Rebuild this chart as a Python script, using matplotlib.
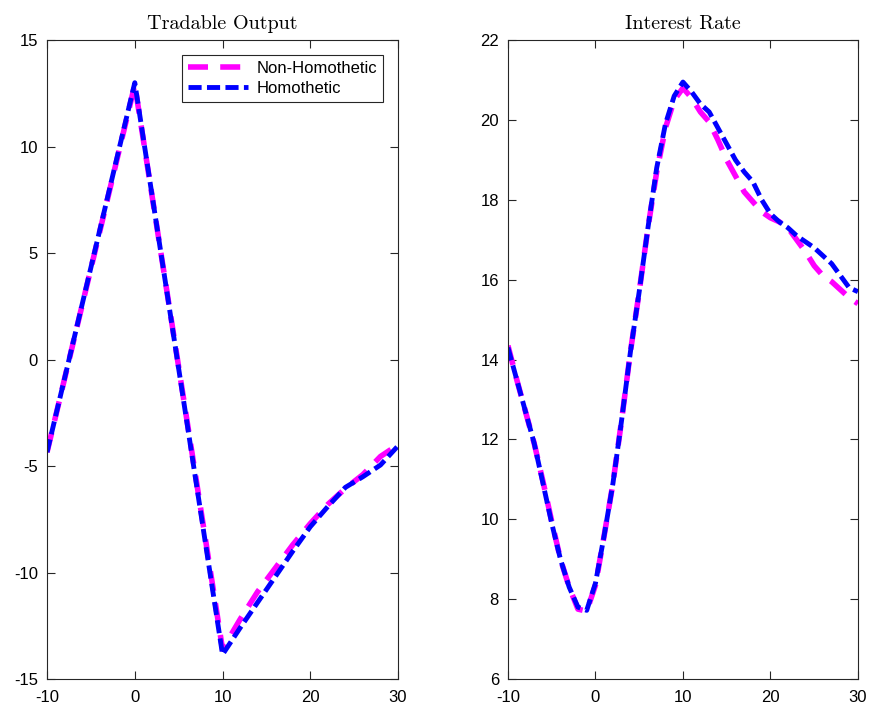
import matplotlib
matplotlib.use("Agg")
import matplotlib.pyplot as plt

# ---- data ----
t_out = [-10, 0, 10, 12, 14, 16, 18, 20, 22, 24, 26, 28, 30]
out_nonhom = [-4.35, 12.9, -13.6, -12.2, -10.9, -9.8, -8.7, -7.7, -6.8, -6.05, -5.4, -4.55, -4.0]
out_hom = [-4.35, 13.0, -13.85, -12.6, -11.4, -10.2, -9.0, -7.85, -6.9, -6.0, -5.5, -4.95, -4.05]

t_rate = list(range(-10, 31))
rate_hom = [14.3, 13.5, 12.7, 11.9, 10.9, 9.9, 9.0, 8.3, 7.8, 7.72, 8.4,
            9.6, 10.9, 12.5, 14.2, 15.7, 17.3, 18.8, 19.9, 20.6, 20.95,
            20.7, 20.4, 20.2, 19.8, 19.4, 19.0, 18.7, 18.45, 18.0, 17.65,
            17.45, 17.3, 17.1, 16.95, 16.8, 16.6, 16.4, 16.1, 15.8, 15.7]
rate_nonhom = [14.35, 13.5, 12.7, 11.9, 10.95, 9.95, 9.0, 8.3, 7.75, 7.7, 8.35,
               9.6, 10.9, 12.5, 14.2, 15.7, 17.3, 18.7, 19.8, 20.5, 20.8,
               20.55, 20.2, 19.95, 19.5, 19.0, 18.6, 18.2, 17.95, 17.7, 17.55,
               17.45, 17.3, 17.0, 16.7, 16.35, 16.1, 15.95, 15.75, 15.55, 15.4]

titles = ["Tradable Output", "Interest Rate"]
labels = ["Non-Homothetic", "Homothetic"]
xticks = [-10, 0, 10, 20, 30]
yticks_out = [-15, -10, -5, 0, 5, 10, 15]
yticks_rate = [6, 8, 10, 12, 14, 16, 18, 20, 22]

plt.rcParams['font.family'] = ['Liberation Sans', 'DejaVu Sans']
plt.rcParams['axes.unicode_minus'] = False

fig = plt.figure(figsize=(8.71, 7.06), dpi=100)
ax1 = fig.add_axes([0.054, 0.0382, 0.403, 0.905])
ax2 = fig.add_axes([0.5832, 0.0382, 0.4018, 0.905])

axcol = '#262626'

def style(ax, yt, ylim, title):
    ax.set_xlim(-10, 30)
    ax.set_ylim(*ylim)
    ax.set_xticks(xticks)
    ax.set_yticks(yt)
    ax.tick_params(direction='in', length=6, width=0.8, colors=axcol,
                   labelsize=12, top=True, right=True, labelcolor='black')
    ax.tick_params(axis='x', pad=8)
    ax.tick_params(axis='y', pad=6.5)
    for s in ax.spines.values():
        s.set_color(axcol)
        s.set_linewidth(0.8)
    ax.set_title(title, family=['cmr10', 'DejaVu Serif'], fontsize=14.5, pad=8)

NH_STYLE = dict(color='#ff00ff', lw=4, dashes=(3.6, 2.2))
H_STYLE = dict(color='#0000ff', lw=3.5, dashes=(2.7, 1.1))

ax1.plot(t_out, out_nonhom, label=labels[0], **NH_STYLE)
ax1.plot(t_out, out_hom, label=labels[1], **H_STYLE)
style(ax1, yticks_out, (-15, 15), titles[0])
leg = ax1.legend(loc='upper right', fontsize=12, frameon=True, fancybox=False,
                 edgecolor=axcol, framealpha=1, borderpad=0.35, handlelength=3.6,
                 handletextpad=0.5, labelspacing=0.3, borderaxespad=0.9)
leg.get_frame().set_linewidth(0.8)

ax2.plot(t_rate, rate_nonhom, **NH_STYLE)
ax2.plot(t_rate, rate_hom, **H_STYLE)
style(ax2, yticks_rate, (6, 22), titles[1])

fig.savefig('out.png', dpi=100)
